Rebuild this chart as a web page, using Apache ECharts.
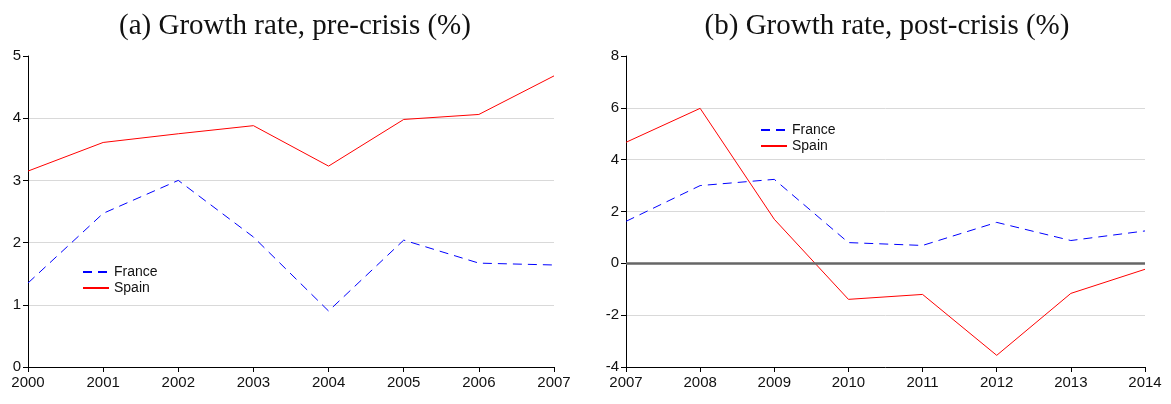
<!DOCTYPE html>
<html>
<head>
<meta charset="utf-8">
<script src="https://cdn.jsdelivr.net/npm/echarts@6/dist/echarts.min.js"></script>
<style>
  html, body { margin: 0; padding: 0; background: #fff; }
  #chart { width: 1171px; height: 404px; }
</style>
</head>
<body>
<div id="chart"></div>
<script>
// pre-crisis panel
var yearsPre = ["2000", "2001", "2002", "2003", "2004", "2005", "2006", "2007"];
var francePre = [1.35, 2.47, 3.0, 2.09, 0.9, 2.04, 1.67, 1.64];
var spainPre = [3.15, 3.61, 3.75, 3.88, 3.23, 3.98, 4.06, 4.68];

// post-crisis panel
var yearsPost = ["2007", "2008", "2009", "2010", "2011", "2012", "2013", "2014"];
var francePost = [1.62, 3.0, 3.24, 0.8, 0.69, 1.58, 0.88, 1.25];
var spainPost = [4.67, 5.98, 1.7, -1.39, -1.2, -3.55, -1.16, -0.23];

var grey = "#d9d9d9";
var font = "Liberation Sans";

function xAx(idx, data) {
  return {
    type: "category",
    gridIndex: idx,
    data: data,
    boundaryGap: false,
    axisLine: { onZero: false, lineStyle: { color: "#000", width: 1 } },
    axisTick: { show: true, length: 5, alignWithLabel: true, lineStyle: { color: "#000" } },
    axisLabel: { color: "#111", fontSize: 15, fontFamily: font, margin: 8, showMinLabel: true, showMaxLabel: true },
    splitLine: { show: false }
  };
}

function yAx(idx, min, max, step, splitColors) {
  return {
    type: "value",
    gridIndex: idx,
    min: min,
    max: max,
    interval: step,
    axisLine: { show: true, lineStyle: { color: "#000", width: 1 } },
    axisTick: { show: true, length: 5, lineStyle: { color: "#000" } },
    axisLabel: { color: "#111", fontSize: 15, fontFamily: font, margin: 7 },
    splitLine: { show: true, lineStyle: { color: splitColors, width: 1 } }
  };
}

var legendCommon = {
  data: ["France", "Spain"],
  orient: "vertical",
  itemWidth: 26, itemHeight: 14, itemGap: 2,
  itemStyle: { opacity: 0 },
  textStyle: { fontFamily: font, fontSize: 14, color: "#111" }
};

var chart = echarts.init(document.getElementById("chart"));

var option = {
  animation: false,
  title: [
    {
      text: "(a) Growth rate, pre-crisis (%)",
      left: 290, top: 7, textAlign: "center",
      textStyle: { fontFamily: "Liberation Serif", fontSize: 29, fontWeight: "normal", color: "#111" }
    },
    {
      text: "(b) Growth rate, post-crisis (%)",
      left: 882, top: 7, textAlign: "center",
      textStyle: { fontFamily: "Liberation Serif", fontSize: 29, fontWeight: "normal", color: "#111" }
    }
  ],
  legend: [
    Object.assign({ left: 77, top: 260 }, legendCommon),
    Object.assign({ left: 755, top: 118 }, legendCommon)
  ],
  grid: [
    { left: 28, right: 617, top: 56, bottom: 37 },
    { left: 626, right: 26, top: 56, bottom: 37 }
  ],
  xAxis: [xAx(0, yearsPre), xAx(1, yearsPost)],
  yAxis: [
    yAx(0, 0, 5, 1, ["transparent", grey, grey, grey, grey, "transparent"]),
    yAx(1, -4, 8, 2, ["transparent", grey, "transparent", grey, grey, grey, "transparent"])
  ],
  series: [
    {
      name: "France", type: "line", xAxisIndex: 0, yAxisIndex: 0,
      data: francePre, symbol: "none",
      lineStyle: { color: "#0000ff", width: 1, type: [9, 6] },
      itemStyle: { color: "#0000ff" }
    },
    {
      name: "Spain", type: "line", xAxisIndex: 0, yAxisIndex: 0,
      data: spainPre, symbol: "none",
      lineStyle: { color: "#ff0000", width: 1 },
      itemStyle: { color: "#ff0000" }
    },
    {
      name: "France", type: "line", xAxisIndex: 1, yAxisIndex: 1,
      data: francePost, symbol: "none",
      lineStyle: { color: "#0000ff", width: 1, type: [9, 6] },
      itemStyle: { color: "#0000ff" },
      markLine: {
        silent: true, symbol: "none", label: { show: false },
        lineStyle: { color: "#666", width: 2.5, type: "solid" },
        data: [{ yAxis: 0 }]
      },
      z: 3
    },
    {
      name: "Spain", type: "line", xAxisIndex: 1, yAxisIndex: 1,
      data: spainPost, symbol: "none",
      lineStyle: { color: "#ff0000", width: 1 },
      itemStyle: { color: "#ff0000" },
      z: 3
    }
  ]
};

chart.setOption(option);
</script>
</body>
</html>
